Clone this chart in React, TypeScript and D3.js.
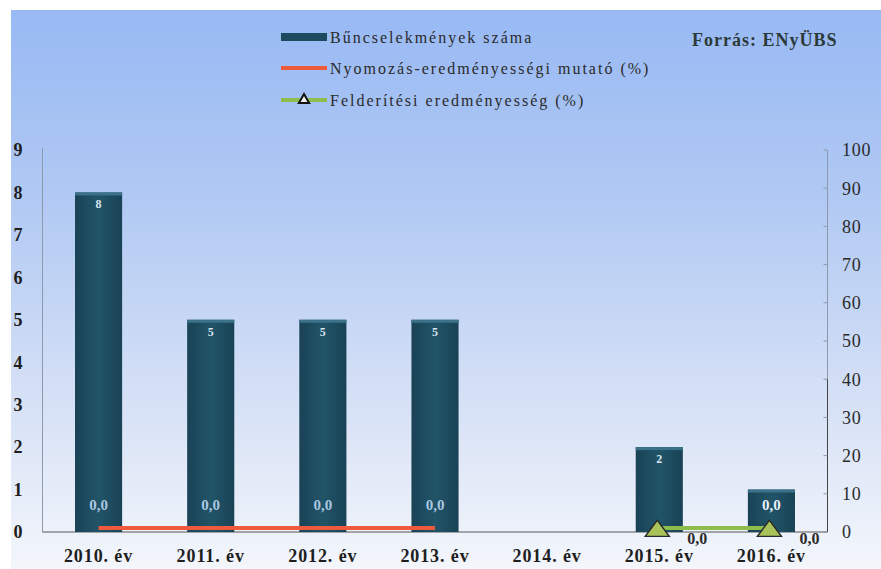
import React from "react";
import * as d3 from "d3";

const categories = ["2010. év", "2011. év", "2012. év", "2013. év", "2014. év", "2015. év", "2016. év"];
const crimes = [8, 5, 5, 5, 0, 2, 1];
const nyomozas: (number | null)[] = [0, 0, 0, 0, null, null, null];
const felderites: (number | null)[] = [null, null, null, null, null, 0, 0];
const leftTicks = [0, 1, 2, 3, 4, 5, 6, 7, 8, 9];
const rightTicks = [0, 10, 20, 30, 40, 50, 60, 70, 80, 90, 100];
const legendItems = ["Bűncselekmények száma", "Nyomozás-eredményességi mutató (%)", "Felderítési eredményesség (%)"];
const source = "Forrás: ENyÜBS";

const W = 881, H = 569;
const plot = { left: 42.5, right: 827.5, top: 150, bottom: 532 };

export default function App() {
  const x = d3.scaleBand<string>().domain(categories).range([plot.left, plot.right]).paddingInner(0.58).paddingOuter(0.29);
  const yL = d3.scaleLinear().domain([0, 9]).range([plot.bottom, plot.top]);
  const yR = d3.scaleLinear().domain([0, 100]).range([plot.bottom, plot.top]);
  const cx = (c: string) => (x(c) as number) + x.bandwidth() / 2;
  const line = d3.line<[string, number | null]>()
    .defined((d) => d[1] !== null)
    .x((d) => cx(d[0]))
    .y((d) => yR(d[1] as number) - 4);
  const redData = categories.map((c, i) => [c, nyomozas[i]] as [string, number | null]);
  const greenData = categories.map((c, i) => [c, felderites[i]] as [string, number | null]);
  const tri = d3.symbol().type(d3.symbolTriangle).size(150)();
  const triSmall = d3.symbol().type(d3.symbolTriangle).size(45)();
  const serif = "'Liberation Serif', 'DejaVu Serif', serif";

  return (
    <svg width={W} height={H} style={{ position: "absolute", left: 0, top: 0, background: "#fff" }} fontFamily={serif}>
      <defs>
        <linearGradient id="bg" x1="0" y1="0" x2="0" y2="1">
          <stop offset="0" stopColor="#98b9f4" />
          <stop offset="0.35" stopColor="#b2caf3" />
          <stop offset="0.7" stopColor="#d6e1f6" />
          <stop offset="1" stopColor="#f3f6fb" />
        </linearGradient>
        <linearGradient id="bar" x1="0" y1="0" x2="1" y2="0">
          <stop offset="0" stopColor="#1a4256" />
          <stop offset="0.5" stopColor="#215468" />
          <stop offset="1" stopColor="#1a4256" />
        </linearGradient>
      </defs>
      <rect x={11} y={10} width={W - 11} height={H - 10} fill="url(#bg)" />

      {/* axes lines */}
      <line x1={plot.left} x2={plot.left} y1={plot.top - 2} y2={plot.bottom} stroke="#8d99ac" strokeWidth={1} />
      <line x1={plot.right} x2={plot.right} y1={plot.top} y2={plot.bottom} stroke="#8d99ac" strokeWidth={1} />
      <line x1={plot.right} x2={plot.right} y1={yR(40)} y2={plot.bottom} stroke="#444" strokeWidth={1} />
      <line x1={plot.left} x2={plot.right} y1={plot.bottom} y2={plot.bottom} stroke="#555" strokeWidth={1} />
      {rightTicks.map((t) => (
        <line key={"rt" + t} x1={plot.right - 4} x2={plot.right} y1={yR(t)} y2={yR(t)} stroke="#8d99ac" />
      ))}
      {leftTicks.map((t) => (
        <text key={"l" + t} x={18} y={yL(t)} dy="0.35em" textAnchor="middle" fontSize={18} fontWeight="bold" fill="#1e1e1e">{t}</text>
      ))}
      {rightTicks.map((t) => (
        <text key={"r" + t} x={842} y={yR(t)} dy="0.35em" textAnchor="start" fontSize={18} letterSpacing={0.8} fill="#2a2a2a">{t}</text>
      ))}

      {/* bars */}
      {categories.map((c, i) => crimes[i] > 0 ? (
        <g key={"b" + c}>
          <rect x={x(c)} y={yL(crimes[i])} width={x.bandwidth()} height={plot.bottom - yL(crimes[i])} fill="url(#bar)" />
          <rect x={x(c)} y={yL(crimes[i])} width={x.bandwidth()} height={3} fill="#3b7189" />
          {crimes[i] > 1 ? (
            <text x={cx(c)} y={yL(crimes[i]) + 16} textAnchor="middle" fontSize={12} fontWeight="bold" fill="#d8e4f0">{crimes[i]}</text>
          ) : null}
        </g>
      ) : null)}

      {/* red line */}
      <path d={line(redData) || ""} fill="none" stroke="#ef5a3c" strokeWidth={4} />
      {categories.map((c, i) => nyomozas[i] !== null ? (
        <text key={"rl" + c} x={cx(c)} y={505} dy="0.35em" textAnchor="middle" fontSize={15} fontWeight="bold" fill="#a9c7e0">0,0</text>
      ) : null)}
      <text x={cx(categories[6])} y={505} dy="0.35em" textAnchor="middle" fontSize={15} fontWeight="bold" fill="#e8f0f8">0,0</text>

      {/* green line */}
      <path d={line(greenData) || ""} fill="none" stroke="#8dbd4a" strokeWidth={4} />
      {categories.map((c, i) => felderites[i] !== null ? (
        <g key={"g" + c}>
          <path d={tri as string} transform={`translate(${cx(c) - 2},${yR(0) - 1}) scale(1.3,1)`} fill="#a9c25a" stroke="#2a2a2a" strokeWidth={1.2} />
          <text x={cx(c) + 38} y={538} dy="0.35em" textAnchor="middle" fontSize={16} fontWeight="bold" fill="#2a2a2a">0,0</text>
        </g>
      ) : null)}

      {/* x labels */}
      {categories.map((c) => (
        <text key={"x" + c} x={cx(c)} y={556} dy="0.35em" textAnchor="middle" fontSize={18} letterSpacing={0.9} fontWeight="bold" fill="#1e1e1e">{c}</text>
      ))}

      {/* legend */}
      {legendItems.map((t, i) => {
        const yy = [37, 68, 100][i];
        const col = ["#1d4a5e", "#ef5a3c", "#8dbd4a"][i];
        return (
          <g key={"lg" + i}>
            {i === 0 ? (
              <rect x={281} y={yy - 4} width={46} height={8} fill={col} />
            ) : (
              <line x1={281} x2={327} y1={yy} y2={yy} stroke={col} strokeWidth={4} />
            )}
            {i === 2 ? <path d={triSmall as string} transform={`translate(304,${yy})`} fill="#f0f0f0" stroke="#111" strokeWidth={2} /> : null}
            <text x={330} y={yy} dy="0.35em" fontSize={16} letterSpacing={2} fill="#2a2a2a">{t}</text>
          </g>
        );
      })}
      <text x={692} y={40} dy="0.35em" fontSize={18} letterSpacing={1} fontWeight="bold" fill="#2c3a3a">{source}</text>
    </svg>
  );
}
